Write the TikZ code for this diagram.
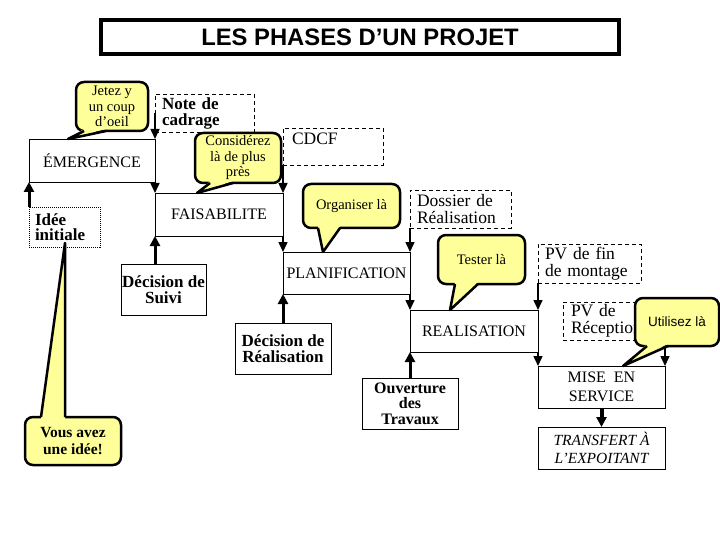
\documentclass[tikz,border=0pt]{standalone}
\usepackage{fontspec}
\setmainfont{Liberation Serif}
\setsansfont{Liberation Sans}
\usepackage{tikz}
\usetikzlibrary{arrows.meta, positioning, calc}
\definecolor{bulleyellow}{RGB}{255,255,153}
\tikzset{
    titre/.style = {rectangle, draw=black, line width=3.5pt, anchor=north west, outer sep=0pt, font=\sffamily\bfseries\fontsize{23.8}{25}\selectfont},
    phase/.style = {rectangle, draw=black, line width=0.8pt, anchor=north west, outer sep=0pt, inner sep=0pt, align=center, font=\fontsize{16}{19}\selectfont},
    doc/.style = {rectangle, draw=black, dash pattern=on 4pt off 3pt, line width=0.8pt, anchor=north west, outer sep=0pt, inner xsep=7pt, inner ysep=0pt, align=left, font=\fontsize{17.5}{17}\selectfont},
    decision/.style = {rectangle, draw=black, line width=0.8pt, anchor=north west, outer sep=0pt, inner sep=0pt, align=center, font=\bfseries\fontsize{17}{16.5}\selectfont},
    bulle/.style = {rectangle, rounded corners=8pt, draw=black, line width=2.5pt, fill=bulleyellow, anchor=north west, outer sep=0pt, inner sep=0pt, align=center, font=\fontsize{14.5}{15.5}\selectfont},
    pointe/.style = {draw=black, line width=2.5pt, line join=round},
    flow/.style = {-{Triangle[length=10pt,width=9pt]}, line width=1.5pt},
    up/.style = {-{Triangle[length=10pt,width=10pt]}, line width=3pt}
}

\begin{document}
\begin{tikzpicture}[x=1pt, y=-1pt]
    \useasboundingbox (0,0) rectangle (720,540);

    % Titre
    \node[titre, minimum width=518pt, minimum height=34pt] (titre) at (101,20) {LES PHASES D’UN PROJET};

    % Phases
    \node[phase, minimum width=126pt, minimum height=43pt] (emergence) at (29,139) {ÉMERGENCE};
    \node[phase, minimum width=128pt, minimum height=43pt] (faisabilite) at (155,193) {FAISABILITE};
    \node[phase, minimum width=127pt, minimum height=42pt] (planification) at (283,252) {PLANIFICATION};
    \node[phase, minimum width=128pt, minimum height=42pt] (realisation) at (410,310) {REALISATION};
    \node[phase, minimum width=127pt, minimum height=42pt] (mise) at (538,366) {MISE\ \ EN\\SERVICE};
    \node[phase, minimum width=127pt, minimum height=42pt, font=\itshape\fontsize{15.5}{18}\selectfont] (transfert) at (538,427) {TRANSFERT À\\L’EXPOITANT};

    % Documents
    \node[doc, dash pattern=on 1pt off 1pt, inner xsep=6pt, text width=59pt, minimum height=40pt, font=\bfseries\fontsize{17}{15.5}\selectfont] (idee) at (29,207) {Idée\\initiale};
    \node[doc, text width=85pt, minimum height=38pt, font=\bfseries\fontsize{17}{16}\selectfont] (note) at (155,94) {Note de\\cadrage};
    \node[doc, minimum height=37pt, text depth=16pt, inner xsep=9pt, text width=82pt] (cdcf) at (283,128) {CDCF};
    \node[doc, text width=87pt, minimum height=38pt] (dossier) at (410,190) {Dossier de\\Réalisation};
    \node[doc, text width=89pt, minimum height=39pt] (pvfin) at (538,244) {PV de fin\\de montage};
    \node[doc, minimum height=38pt, inner xsep=8pt, text width=86pt] (pvrecep) at (563,302) {PV de\\Réception};

    % Decisions
    \node[decision, minimum width=85pt, minimum height=51pt] (suivi) at (121,264) {Décision de\\Suivi};
    \node[decision, minimum width=96pt, minimum height=51pt] (decreal) at (235,323) {Décision de\\Réalisation};
    \node[decision, minimum width=96pt, minimum height=51pt, font=\bfseries\fontsize{16}{15.5}\selectfont] (ouverture) at (362,378) {Ouverture\\des\\Travaux};

    % Flux descendant
    \draw[flow] (note.west) -- (emergence.north east);
    \draw[flow] (emergence.south east) -- (faisabilite.north west);
    \draw[flow] (cdcf.south west) -- (faisabilite.north east);
    \draw[flow] (faisabilite.south east) -- (planification.north west);
    \draw[flow] (dossier.south west) -- (planification.north east);
    \draw[flow] (planification.south east) -- (realisation.north west);
    \draw[flow] (pvfin.south west) -- (realisation.north east);
    \draw[flow] (realisation.south east) -- (mise.north west);
    \draw[flow] (pvrecep.south east) -- (mise.north east);

    % Flux montant
    \draw[up] (idee.north west) -- (emergence.south west);
    \draw[up] (suivi.north -| faisabilite.south west) -- (faisabilite.south west);
    \draw[up] (decreal.north) -- (planification.south west);
    \draw[up] (ouverture.north) -- (realisation.south west);
    \draw[up, line width=4pt] (mise.south) -- (transfert.north);

    % Bulles
    \node[bulle, minimum width=72pt, minimum height=49pt] (jetez) at (76,82) {Jetez y\\un coup\\d’oeil};
    \coordinate (jetez tip) at ($(emergence.north west)+(39,0)$);
    \fill[bulleyellow] ($(jetez.south west)+(8,-2)$) -- (jetez tip) -- ($(jetez.south west)+(30,-2)$) -- cycle;
    \draw[pointe] ($(jetez.south west)+(8,0)$) -- (jetez tip) -- ($(jetez.south west)+(30,0)$);

    \node[bulle, minimum width=86pt, minimum height=50pt] (considerez) at (195,133) {Considérez\\là de plus\\près};
    \coordinate (considerez tip) at ($(faisabilite.north west)+(42,0)$);
    \fill[bulleyellow] ($(considerez.south west)+(15,-2)$) -- (considerez tip) -- ($(considerez.south west)+(38,-2)$) -- cycle;
    \draw[pointe] ($(considerez.south west)+(15,0)$) -- (considerez tip) -- ($(considerez.south west)+(38,0)$);

    \node[bulle, minimum width=97pt, minimum height=44pt] (organiser) at (303,184) {Organiser là};
    \coordinate (organiser tip) at ($(planification.north west)+(40,0)$);
    \fill[bulleyellow] ($(organiser.south west)+(15,-2)$) -- (organiser tip) -- ($(organiser.south west)+(37,-2)$) -- cycle;
    \draw[pointe] ($(organiser.south west)+(15,0)$) -- (organiser tip) -- ($(organiser.south west)+(37,0)$);

    \node[bulle, minimum width=87pt, minimum height=49pt] (tester) at (438,235) {Tester là};
    \coordinate (tester tip) at ($(realisation.north west)+(40,0)$);
    \fill[bulleyellow] ($(tester.south west)+(17,-2)$) -- (tester tip) -- ($(tester.south west)+(40,-2)$) -- cycle;
    \draw[pointe] ($(tester.south west)+(17,0)$) -- (tester tip) -- ($(tester.south west)+(40,0)$);

    \node[bulle, minimum width=84pt, minimum height=48pt, font=\sffamily\fontsize{13.5}{15.5}\selectfont] (utilisez) at (635,298) {Utilisez là};
    \coordinate (utilisez tip) at ($(mise.north west)+(85,0)$);
    \fill[bulleyellow] ($(utilisez.south west)+(12,-2)$) -- (utilisez tip) -- ($(utilisez.south west)+(33,-2)$) -- cycle;
    \draw[pointe] ($(utilisez.south west)+(12,0)$) -- (utilisez tip) -- ($(utilisez.south west)+(33,0)$);

    \node[bulle, minimum width=96pt, minimum height=48pt, font=\bfseries\fontsize{15.5}{17}\selectfont] (vous) at (25,417) {Vous avez\\une idée!};
    \coordinate (vous tip) at ($(idee.south west)+(36,-4)$);
    \fill[bulleyellow] ($(vous.north west)+(16,2)$) -- (vous tip) -- ($(vous.north west)+(40,2)$) -- cycle;
    \draw[pointe] ($(vous.north west)+(16,0)$) -- (vous tip) -- ($(vous.north west)+(40,0)$);
\end{tikzpicture}
\end{document}
